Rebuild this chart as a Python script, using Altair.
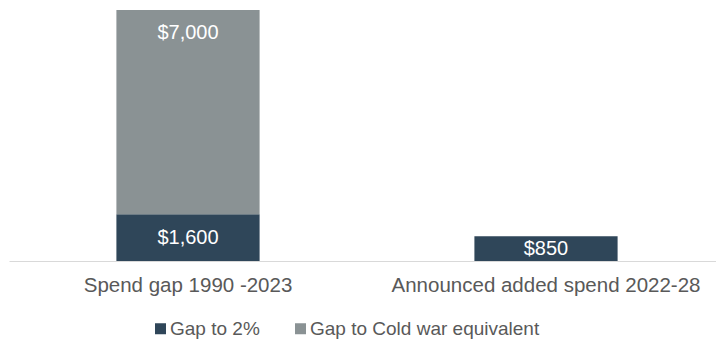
import altair as alt
import pandas as pd

categories = ["Spend gap 1990 -2023", "Announced added spend 2022-28"]
series = ["Gap to 2%", "Gap to Cold war equivalent"]
gap_to_2pct = [1600, 850]
gap_to_cold_war = [7000, None]
colors = ["#2F4659", "#8A9294"]

rows = []
for c, a, b in zip(categories, gap_to_2pct, gap_to_cold_war):
    rows.append({"category": c, "series": series[0], "order": 0, "value": a})
    if b is not None:
        rows.append({"category": c, "series": series[1], "order": 1, "value": b})
df = pd.DataFrame(rows)

FONT_AX = "Liberation Sans"

x = alt.X(
    "category:N",
    sort=categories,
    title=None,
    scale=alt.Scale(range=[-1, 715], paddingInner=0.6, paddingOuter=0.3),
    axis=alt.Axis(
        labelAngle=0, ticks=False, grid=False,
        domainColor="#D9D9D9", domainWidth=1,
        labelFont=FONT_AX, labelFontSize=20.5, labelColor="#595959",
        labelPadding=14, labelLimit=400,
    ),
)
y_scale = alt.Scale(domain=[0, 8600], nice=False)

base = alt.Chart(df)

bars = base.mark_bar().encode(
    x=x,
    y=alt.Y("value:Q", stack="zero", scale=y_scale, axis=None),
    color=alt.Color(
        "series:N",
        scale=alt.Scale(domain=series, range=colors),
        legend=alt.Legend(
            title=None, orient="none", direction="horizontal",
            legendX=141, legendY=309, padding=0,
            symbolType="square", symbolSize=121, symbolStrokeWidth=0,
            labelFont="Liberation Sans", labelFontSize=19, labelColor="#595959",
            labelOffset=0, columnPadding=31, labelLimit=400,
        ),
    ),
    order=alt.Order("order:Q"),
)

stacked = base.transform_stack(
    stack="value", groupby=["category"], sort=[alt.SortField("order")], as_=["v0", "v1"]
).transform_calculate(
    mid="(datum.v0 + datum.v1) / 2",
    label="'$' + format(datum.value, ',')",
)

text_mid = stacked.transform_filter("datum.order == 0").mark_text(
    color="white", font=FONT_AX, fontSize=20, baseline="middle"
).encode(
    x=x,
    y=alt.Y("mid:Q", scale=y_scale, axis=None),
    text="label:N",
)

text_top = stacked.transform_filter("datum.order == 1").mark_text(
    color="white", font=FONT_AX, fontSize=20, baseline="middle", dy=23
).encode(
    x=x,
    y=alt.Y("v1:Q", scale=y_scale, axis=None),
    text="label:N",
)

chart = alt.layer(bars, text_mid, text_top).properties(
    width=706, height=251,
    autosize=alt.AutoSizeParams(type="none"),
    padding={"left": 10, "top": 10, "right": 0, "bottom": 79},
).configure_view(stroke=None)

chart.save("out.html", embed_options={"renderer": "svg", "actions": False})
